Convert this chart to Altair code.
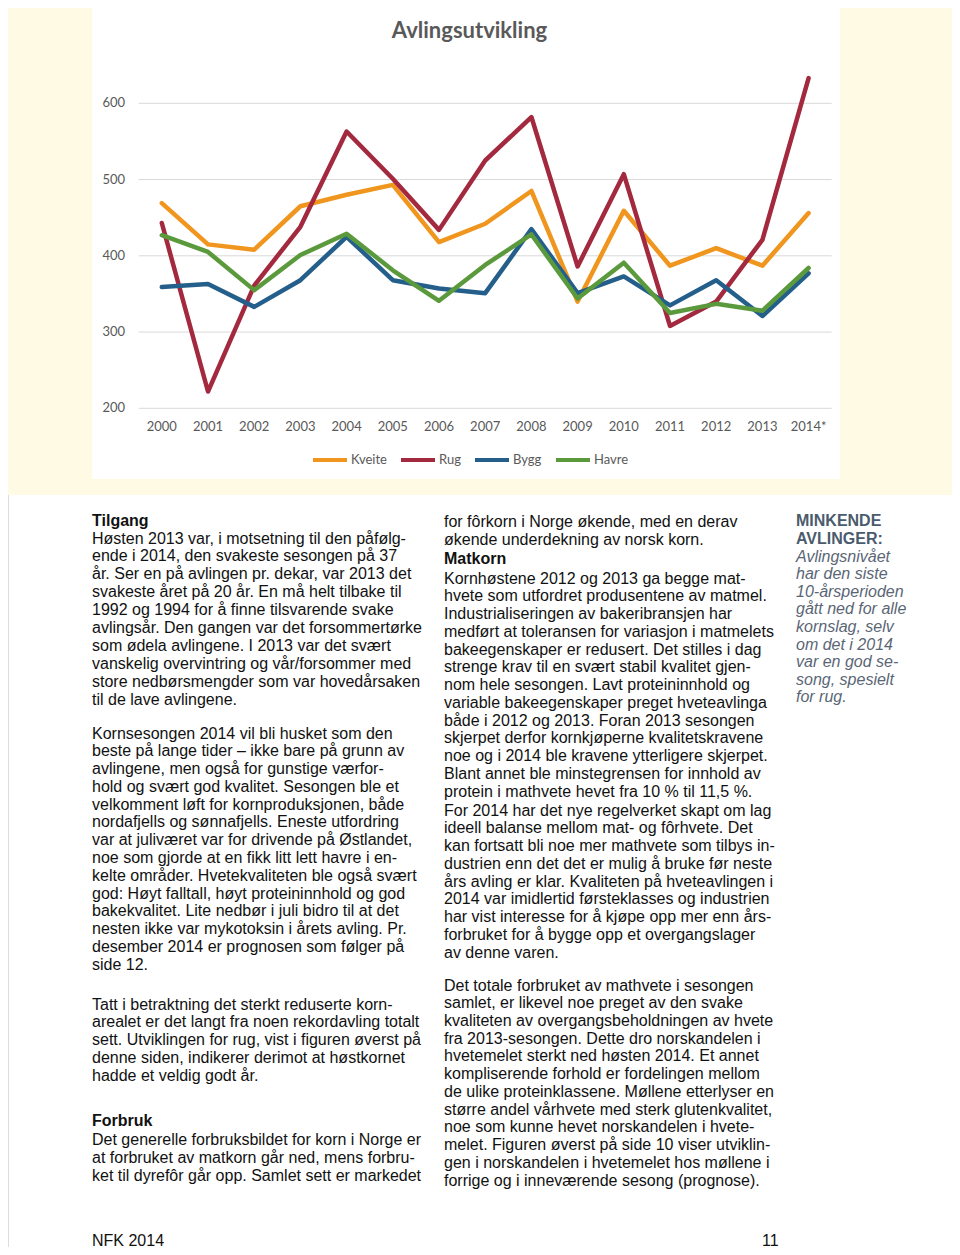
import altair as alt
import pandas as pd

# ---------------- chart data ----------------
years = ["2000", "2001", "2002", "2003", "2004", "2005", "2006", "2007",
         "2008", "2009", "2010", "2011", "2012", "2013", "2014*"]
crops = ["Kveite", "Rug", "Bygg", "Havre"]
kveite = [469, 415, 408, 465, 480, 493, 418, 442, 485, 340, 459, 387, 410, 387, 456]
rug = [443, 222, 361, 438, 563, 501, 434, 525, 582, 386, 507, 308, 340, 421, 633]
bygg = [359, 363, 333, 368, 425, 368, 357, 351, 435, 351, 373, 335, 368, 321, 377]
havre = [427, 405, 355, 401, 429, 381, 341, 388, 428, 344, 391, 325, 337, 328, 384]
y_ticks = [200, 300, 400, 500, 600]
crop_colors = ["#F0961E", "#A3293F", "#245F8C", "#5B9A3C"]
chart_title = "Avlingsutvikling"

# ---------------- page text ----------------
col1_head1 = ["Tilgang"]
col1_p1 = [
    "Høsten 2013 var, i motsetning til den påfølg-",
    "ende i 2014, den svakeste sesongen på 37",
    "år. Ser en på avlingen pr. dekar, var 2013 det",
    "svakeste året på 20 år. En må helt tilbake til",
    "1992 og 1994 for å finne tilsvarende svake",
    "avlingsår. Den gangen var det forsommertørke",
    "som ødela avlingene. I 2013 var det svært",
    "vanskelig overvintring og vår/forsommer med",
    "store nedbørsmengder som var hovedårsaken",
    "til de lave avlingene.",
]
col1_p2 = [
    "Kornsesongen 2014 vil bli husket som den",
    "beste på lange tider – ikke bare på grunn av",
    "avlingene, men også for gunstige værfor-",
    "hold og svært god kvalitet. Sesongen ble et",
    "velkomment løft for kornproduksjonen, både",
    "nordafjells og sønnafjells. Eneste utfordring",
    "var at juliværet var for drivende på Østlandet,",
    "noe som gjorde at en fikk litt lett havre i en-",
    "kelte områder. Hvetekvaliteten ble også svært",
    "god: Høyt falltall, høyt proteininnhold og god",
    "bakekvalitet. Lite nedbør i juli bidro til at det",
    "nesten ikke var mykotoksin i årets avling. Pr.",
    "desember 2014 er prognosen som følger på",
    "side 12.",
]
col1_p3 = [
    "Tatt i betraktning det sterkt reduserte korn-",
    "arealet er det langt fra noen rekordavling totalt",
    "sett. Utviklingen for rug, vist i figuren øverst på",
    "denne siden, indikerer derimot at høstkornet",
    "hadde et veldig godt år.",
]
col1_head2 = ["Forbruk"]
col1_p4 = [
    "Det generelle forbruksbildet for korn i Norge er",
    "at forbruket av matkorn går ned, mens forbru-",
    "ket til dyrefôr går opp. Samlet sett er markedet",
]
col2_p1 = [
    "for fôrkorn i Norge økende, med en derav",
    "økende underdekning av norsk korn.",
]
col2_head = ["Matkorn"]
col2_p2 = [
    "Kornhøstene 2012 og 2013 ga begge mat-",
    "hvete som utfordret produsentene av matmel.",
    "Industrialiseringen av bakeribransjen har",
    "medført at toleransen for variasjon i matmelets",
    "bakeegenskaper er redusert. Det stilles i dag",
    "strenge krav til en svært stabil kvalitet gjen-",
    "nom hele sesongen. Lavt proteininnhold og",
    "variable bakeegenskaper preget hveteavlinga",
    "både i 2012 og 2013. Foran 2013 sesongen",
    "skjerpet derfor kornkjøperne kvalitetskravene",
    "noe og i 2014 ble kravene ytterligere skjerpet.",
    "Blant annet ble minstegrensen for innhold av",
    "protein i mathvete hevet fra 10 % til 11,5 %.",
]
col2_p3 = [
    "For 2014 har det nye regelverket skapt om lag",
    "ideell balanse mellom mat- og fôrhvete. Det",
    "kan fortsatt bli noe mer mathvete som tilbys in-",
    "dustrien enn det det er mulig å bruke før neste",
    "års avling er klar. Kvaliteten på hveteavlingen i",
    "2014 var imidlertid førsteklasses og industrien",
    "har vist interesse for å kjøpe opp mer enn års-",
    "forbruket for å bygge opp et overgangslager",
    "av denne varen.",
]
col2_p4 = [
    "Det totale forbruket av mathvete i sesongen",
    "samlet, er likevel noe preget av den svake",
    "kvaliteten av overgangsbeholdningen av hvete",
    "fra 2013-sesongen. Dette dro norskandelen i",
    "hvetemelet sterkt ned høsten 2014. Et annet",
    "kompliserende forhold er fordelingen mellom",
    "de ulike proteinklassene. Møllene etterlyser en",
    "større andel vårhvete med sterk glutenkvalitet,",
    "noe som kunne hevet norskandelen i hvete-",
    "melet. Figuren øverst på side 10 viser utviklin-",
    "gen i norskandelen i hvetemelet hos møllene i",
    "forrige og i inneværende sesong (prognose).",
]
col3_head = ["MINKENDE", "AVLINGER:"]
col3_body = [
    "Avlingsnivået", "har den siste", "10-årsperioden", "gått ned for alle",
    "kornslag, selv", "om det i 2014", "var en god se-", "song, spesielt",
    "for rug.",
]
footer_left = ["NFK 2014"]
footer_right = ["11"]

# ---------------- build tables ----------------
series = {"Kveite": kveite, "Rug": rug, "Bygg": bygg, "Havre": havre}
rows = []
for c in crops:
    for yr, v in zip(years, series[c]):
        rows.append({"year": yr, "crop": c, "value": v})
df = pd.DataFrame(rows)
tick_df = pd.DataFrame({"value": y_ticks})
year_df = pd.DataFrame({"year": years})
one = alt.Data(values=[{"k": 1}])

OFF = 8  # page margin
W, H = 960 - 2 * OFF, 1255 - 2 * OFF

xscale = alt.Scale(type="point", domain=years, range=[138.7 - OFF, 831.7 - OFF], padding=0.5)
yscale = alt.Scale(domain=[200, 600], range=[408.3 - OFF, 103.3 - OFF], nice=False, zero=False)

GRAY = "#595959"
CFONT = "Lato"
BFONT = "Liberation Sans"
LH = 17.8

bg_yellow = alt.Chart(one).mark_rect(color="#FFFAE3").encode(
    x=alt.value(-OFF), x2=alt.value(W + OFF), y=alt.value(-OFF), y2=alt.value(495 - OFF))
bg_white = alt.Chart(one).mark_rect(color="#FFFFFF").encode(
    x=alt.value(92 - OFF), x2=alt.value(840 - OFF), y=alt.value(6 - OFF), y2=alt.value(479 - OFF))

grid = alt.Chart(tick_df).mark_rule(color="#D9D9D9", strokeWidth=1).encode(
    y=alt.Y("value:Q", scale=yscale, axis=None),
    x=alt.value(138.7 - OFF), x2=alt.value(831.7 - OFF))

ylabels = alt.Chart(tick_df).mark_text(
    align="right", baseline="middle", font=CFONT, fontSize=13, color=GRAY).encode(
    y=alt.Y("value:Q", scale=yscale, axis=None), x=alt.value(125 - OFF), text="value:Q")

xlabels = alt.Chart(year_df).mark_text(
    align="center", baseline="middle", font=CFONT, fontSize=13, color=GRAY).encode(
    x=alt.X("year:N", scale=xscale, axis=None), y=alt.value(427 - OFF), text="year:N")

lines = alt.Chart(df).mark_line(strokeWidth=4.5, strokeJoin="round", strokeCap="round").encode(
    x=alt.X("year:N", scale=xscale, axis=None),
    y=alt.Y("value:Q", scale=yscale, axis=None),
    color=alt.Color("crop:N", scale=alt.Scale(domain=crops, range=crop_colors),
                    legend=alt.Legend(orient="none", legendX=311 - OFF, legendY=441 - OFF,
                                      direction="horizontal", title=None, symbolType="stroke",
                                      symbolSize=1156, symbolStrokeWidth=4, labelFont=CFONT,
                                      labelFontSize=13, labelColor=GRAY, columnPadding=6,
                                      labelOffset=2, padding=0)),
)

title = alt.Chart(one).mark_text(
    text=chart_title, align="center", baseline="middle", font=CFONT, fontSize=22,
    fontWeight="bold", color=GRAY).encode(x=alt.value(469.5 - OFF), y=alt.value(31 - OFF))


def block(lines_, x, y_base, weight="normal", style="normal", color="#111111", size=16, lh=LH):
    return alt.Chart(one).mark_text(
        text=lines_, align="left", baseline="alphabetic", font=BFONT, fontSize=size,
        fontWeight=weight, fontStyle=style, color=color, lineHeight=lh).encode(
        x=alt.value(x - OFF), y=alt.value(y_base - OFF))


C1, C2, C3 = 92, 444, 796
texts = [
    block(col1_head1, C1, 525.5, weight="bold"),
    block(col1_p1, C1, 543.5, lh=17.9),
    block(col1_p2, C1, 738.5, lh=17.78),
    block(col1_p3, C1, 1009.5, lh=17.75),
    block(col1_head2, C1, 1125.5, weight="bold"),
    block(col1_p4, C1, 1144.5, lh=18),
    block(col2_p1, C2, 526.5, lh=18),
    block(col2_head, C2, 563.5, weight="bold"),
    block(col2_p2, C2, 583.5, lh=17.75),
    block(col2_p3, C2, 815.5, lh=17.75),
    block(col2_p4, C2, 990.5, lh=17.73),
    block(col3_head, C3, 525.5, weight="bold", color="#4B5B6E", lh=18),
    block(col3_body, C3, 561.5, style="italic", color="#5A6675", lh=17.6),
    block(footer_left, C1, 1245.5),
    block(footer_right, 762, 1245.5),
]

chart = alt.layer(
    bg_yellow, bg_white, grid, ylabels, xlabels, lines, title, *texts
).properties(
    width=W, height=H, autosize=alt.AutoSizeParams(type="none"), padding=0
).configure_view(strokeOpacity=0).configure(background="#FFFFFF")

chart.save("out.html", embed_options={"renderer": "svg", "actions": False})
